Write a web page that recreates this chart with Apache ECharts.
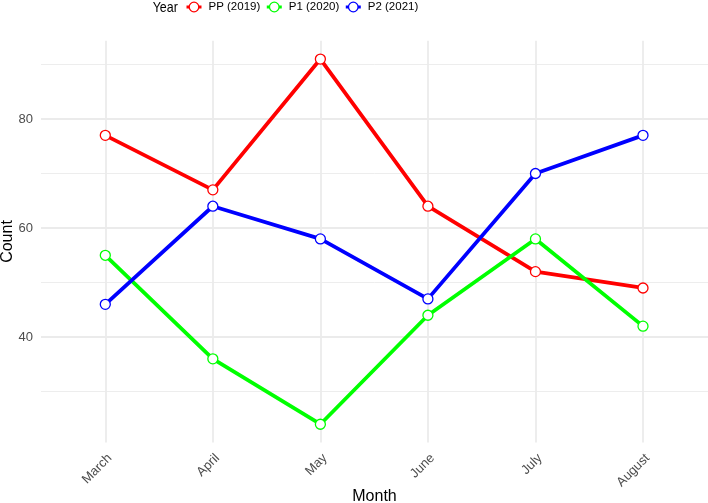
<!DOCTYPE html>
<html>
<head>
<meta charset="utf-8">
<script src="https://cdn.jsdelivr.net/npm/echarts@6/dist/echarts.min.js"></script>
<style>
html,body{margin:0;padding:0;background:#fff;}
#chart{width:708px;height:503px;}
</style>
</head>
<body>
<div id="chart"></div>
<script>
const months = ['March', 'April', 'May', 'June', 'July', 'August'];
const pp2019 = [77, 67, 91, 64, 52, 49];
const p12020 = [55, 36, 24, 44, 58, 42];
const p22021 = [46, 64, 58, 47, 70, 77];
const yTicks = [40, 60, 80];
const seriesNames = ['PP (2019)', 'P1 (2020)', 'P2 (2021)'];
const seriesColors = ['#ff0000', '#00ff00', '#0000ff'];
const seriesData = [pp2019, p12020, p22021];

const FONT = '"Liberation Sans", Arial, Helvetica, sans-serif';
const GRID = '#ebebeb';

const chart = echarts.init(document.getElementById('chart'), null, {renderer: 'canvas'});

const series = seriesNames.map((name, i) => ({
  name: name,
  type: 'line',
  xAxisIndex: 1,
  yAxisIndex: 1,
  data: seriesData[i],
  clip: false,
  symbol: 'circle',
  symbolSize: 10,
  showAllSymbol: true,
  lineStyle: {color: seriesColors[i], width: 3.8},
  itemStyle: {color: '#ffffff', borderColor: seriesColors[i], borderWidth: 1.3},
  emphasis: {disabled: true},
  animation: false,
  z: 2 + i
}));

chart.setOption({
  animation: false,
  textStyle: {fontFamily: FONT},
  legend: {
    left: 185,
    top: 1,
    padding: 0,
    itemWidth: 15,
    itemHeight: 12,
    itemGap: 5,
    data: seriesNames.map((n, i) => ({name: n, itemStyle: {color: '#ffffff', borderColor: seriesColors[i], borderWidth: 1.3}, lineStyle: {color: seriesColors[i], width: 3}})),
    textStyle: {fontFamily: FONT, fontSize: 11.5, color: '#000000', padding: [0, 0, 0, 2]},
    selectedMode: false
  },
  graphic: [
    {type: 'text', x: 152.7, y: 7.5, scaleX: 0.83, style: {text: 'Year', font: '15px ' + FONT, fill: '#000000', align: 'left', verticalAlign: 'middle'}},
    {type: 'text', x: 374.5, y: 497, style: {text: 'Month', font: '16px ' + FONT, fill: '#000000', align: 'center', verticalAlign: 'middle'}},
    {type: 'text', x: 7.5, y: 241.5, rotation: Math.PI / 2, style: {text: 'Count', font: '16px ' + FONT, fill: '#000000', align: 'center', verticalAlign: 'middle'}}
  ],
  grid: [
    {left: 41, right: 0, top: 10, bottom: 57, containLabel: false},
    {left: 105.3, right: 65, top: 40.8, bottom: 60.5, containLabel: false}
  ],
  xAxis: [
    {type: 'value', gridIndex: 0, min: 0, max: 1, show: false},
    {
      type: 'category', gridIndex: 1, data: months, boundaryGap: false,
      axisLine: {show: false}, axisTick: {show: false},
      splitLine: {show: true, lineStyle: {color: GRID, width: 1.8}},
      axisLabel: {rotate: 45, interval: 0, margin: 9, fontSize: 13, color: '#4d4d4d', fontFamily: FONT, verticalAlign: 'top'}
    }
  ],
  yAxis: [
    {
      type: 'value', gridIndex: 0, min: 20, max: 100, interval: 20,
      axisLine: {show: false}, axisTick: {show: false},
      axisLabel: {margin: 8, fontSize: 13, color: '#4d4d4d', fontFamily: FONT,
        formatter: v => (yTicks.indexOf(v) >= 0 ? String(v) : '')},
      splitLine: {show: true, showMinLine: false, showMaxLine: false, lineStyle: {color: GRID, width: 1.8}},
      minorTick: {show: false, splitNumber: 2},
      minorSplitLine: {show: true, lineStyle: {color: GRID, width: 0.9}}
    },
    {type: 'value', gridIndex: 1, min: 20.65, max: 94.35, show: false}
  ],
  series: series
});
</script>
</body>
</html>
